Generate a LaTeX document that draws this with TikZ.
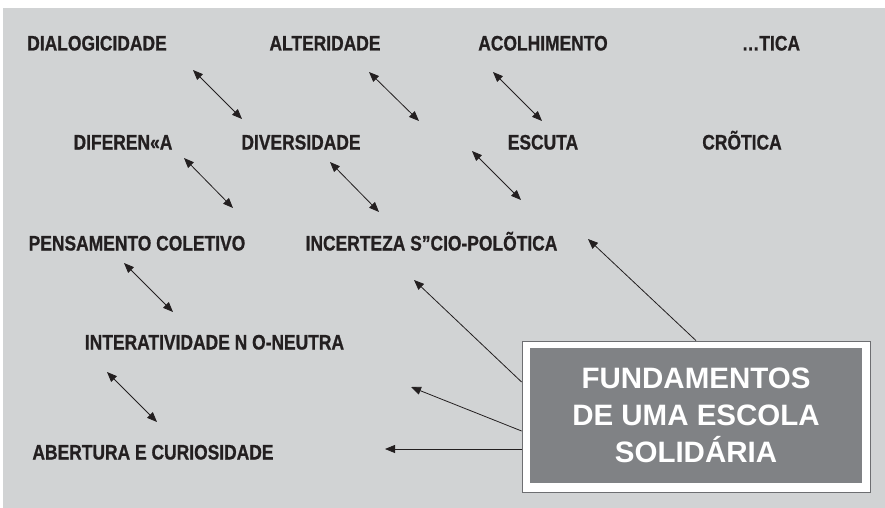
\documentclass[tikz,border=0pt]{standalone}
\usepackage{fontspec}
\setmainfont{Liberation Sans}
\newfontfamily\conceptfont{Liberation Sans}[FakeStretch=0.83, FakeBold=0.8]
\usetikzlibrary{arrows.meta, positioning}
\definecolor{paneGray}{HTML}{D1D3D4}
\definecolor{boxGray}{HTML}{808285}
\definecolor{rimGray}{HTML}{6D6E71}
\definecolor{inkBlack}{HTML}{231F20}

\begin{document}
\begin{tikzpicture}[x=1pt, y=-1pt,
    % Styles
    concept/.style={inner sep=0pt, text height=15pt, text depth=0pt, text=inkBlack, font=\conceptfont\bfseries\fontsize{21}{21}\selectfont},
    link/.style={{Triangle[length=10pt,width=8pt]}-{Triangle[length=10pt,width=8pt]}, line width=0.8pt, draw=inkBlack},
    pointer/.style={-{Triangle[length=10pt,width=8pt]}, line width=0.8pt, draw=inkBlack},
    frame/.style={rectangle, draw=rimGray, line width=0.8pt, fill=white, inner sep=0pt, minimum width=348pt, minimum height=151pt},
    core/.style={rectangle, fill=boxGray, inner sep=0pt, minimum width=332pt, minimum height=135pt, align=center, text=white, font=\bfseries\fontsize{29.5}{37}\selectfont}
]

    \useasboundingbox (0,0) rectangle (885,508);
    \fill[paneGray] (3,8) rectangle (885,508);

    % --- Concepts, row by row ---
    \node[concept] (dialog) at (97,43) {DIALOGICIDADE};
    \node[concept] (alter) at (325,43) {ALTERIDADE};
    \node[concept] (acolh) at (543,43) {ACOLHIMENTO};
    \node[concept] (etica) at (771,43) {…TICA};

    \node[concept] (difer) at (123,142) {DIFEREN«A};
    \node[concept] (divers) at (301,142) {DIVERSIDADE};
    \node[concept] (escuta) at (543,142) {ESCUTA};
    \node[concept] (critica) at (742,142) {CRÕTICA};

    \node[concept] (pensam) at (137,243) {PENSAMENTO COLETIVO};
    \node[concept] (incert) at (431.5,243) {INCERTEZA S”CIO-POLÕTICA};

    \node[concept] (interat) at (214.5,342) {INTERATIVIDADE N O-NEUTRA};

    \node[concept] (abert) at (153,452) {ABERTURA E CURIOSIDADE};

    % --- Central box ---
    \node[frame] (box) at (696,416.5) {};
    \node[core] (title) at (696,415.5) {FUNDAMENTOS\\DE UMA ESCOLA\\SOLIDÁRIA};

    % --- Ends of the two-way arrows ---
    \coordinate (l1a) at (193,70);  \coordinate (l1b) at (242,119);
    \coordinate (l2a) at (369,72);  \coordinate (l2b) at (419,121);
    \coordinate (l3a) at (493,72);  \coordinate (l3b) at (542,121);
    \coordinate (l4a) at (184,158); \coordinate (l4b) at (233,208);
    \coordinate (l5a) at (330,162); \coordinate (l5b) at (379,212);
    \coordinate (l6a) at (472,151); \coordinate (l6b) at (521,200);
    \coordinate (l7a) at (124,263); \coordinate (l7b) at (173,312);
    \coordinate (l8a) at (107,372); \coordinate (l8b) at (157,422);

    \draw[link] (l1a) -- (l1b);
    \draw[link] (l2a) -- (l2b);
    \draw[link] (l3a) -- (l3b);
    \draw[link] (l4a) -- (l4b);
    \draw[link] (l5a) -- (l5b);
    \draw[link] (l6a) -- (l6b);
    \draw[link] (l7a) -- (l7b);
    \draw[link] (l8a) -- (l8b);

    % --- Arrows out of the box ---
    \coordinate (p1) at (588,239);
    \coordinate (p2) at (414,280);
    \coordinate (p3) at (411,387);
    \coordinate (p4) at (385,449);

    \draw[pointer] (box.north) -- (p1);
    \draw[pointer] ([yshift=34.5pt]box.west) -- (p2);
    \draw[pointer] ([yshift=-14.5pt]box.west) -- (p3);
    \draw[pointer] ([yshift=-32.5pt]box.west) -- (p4);

\end{tikzpicture}
\end{document}
